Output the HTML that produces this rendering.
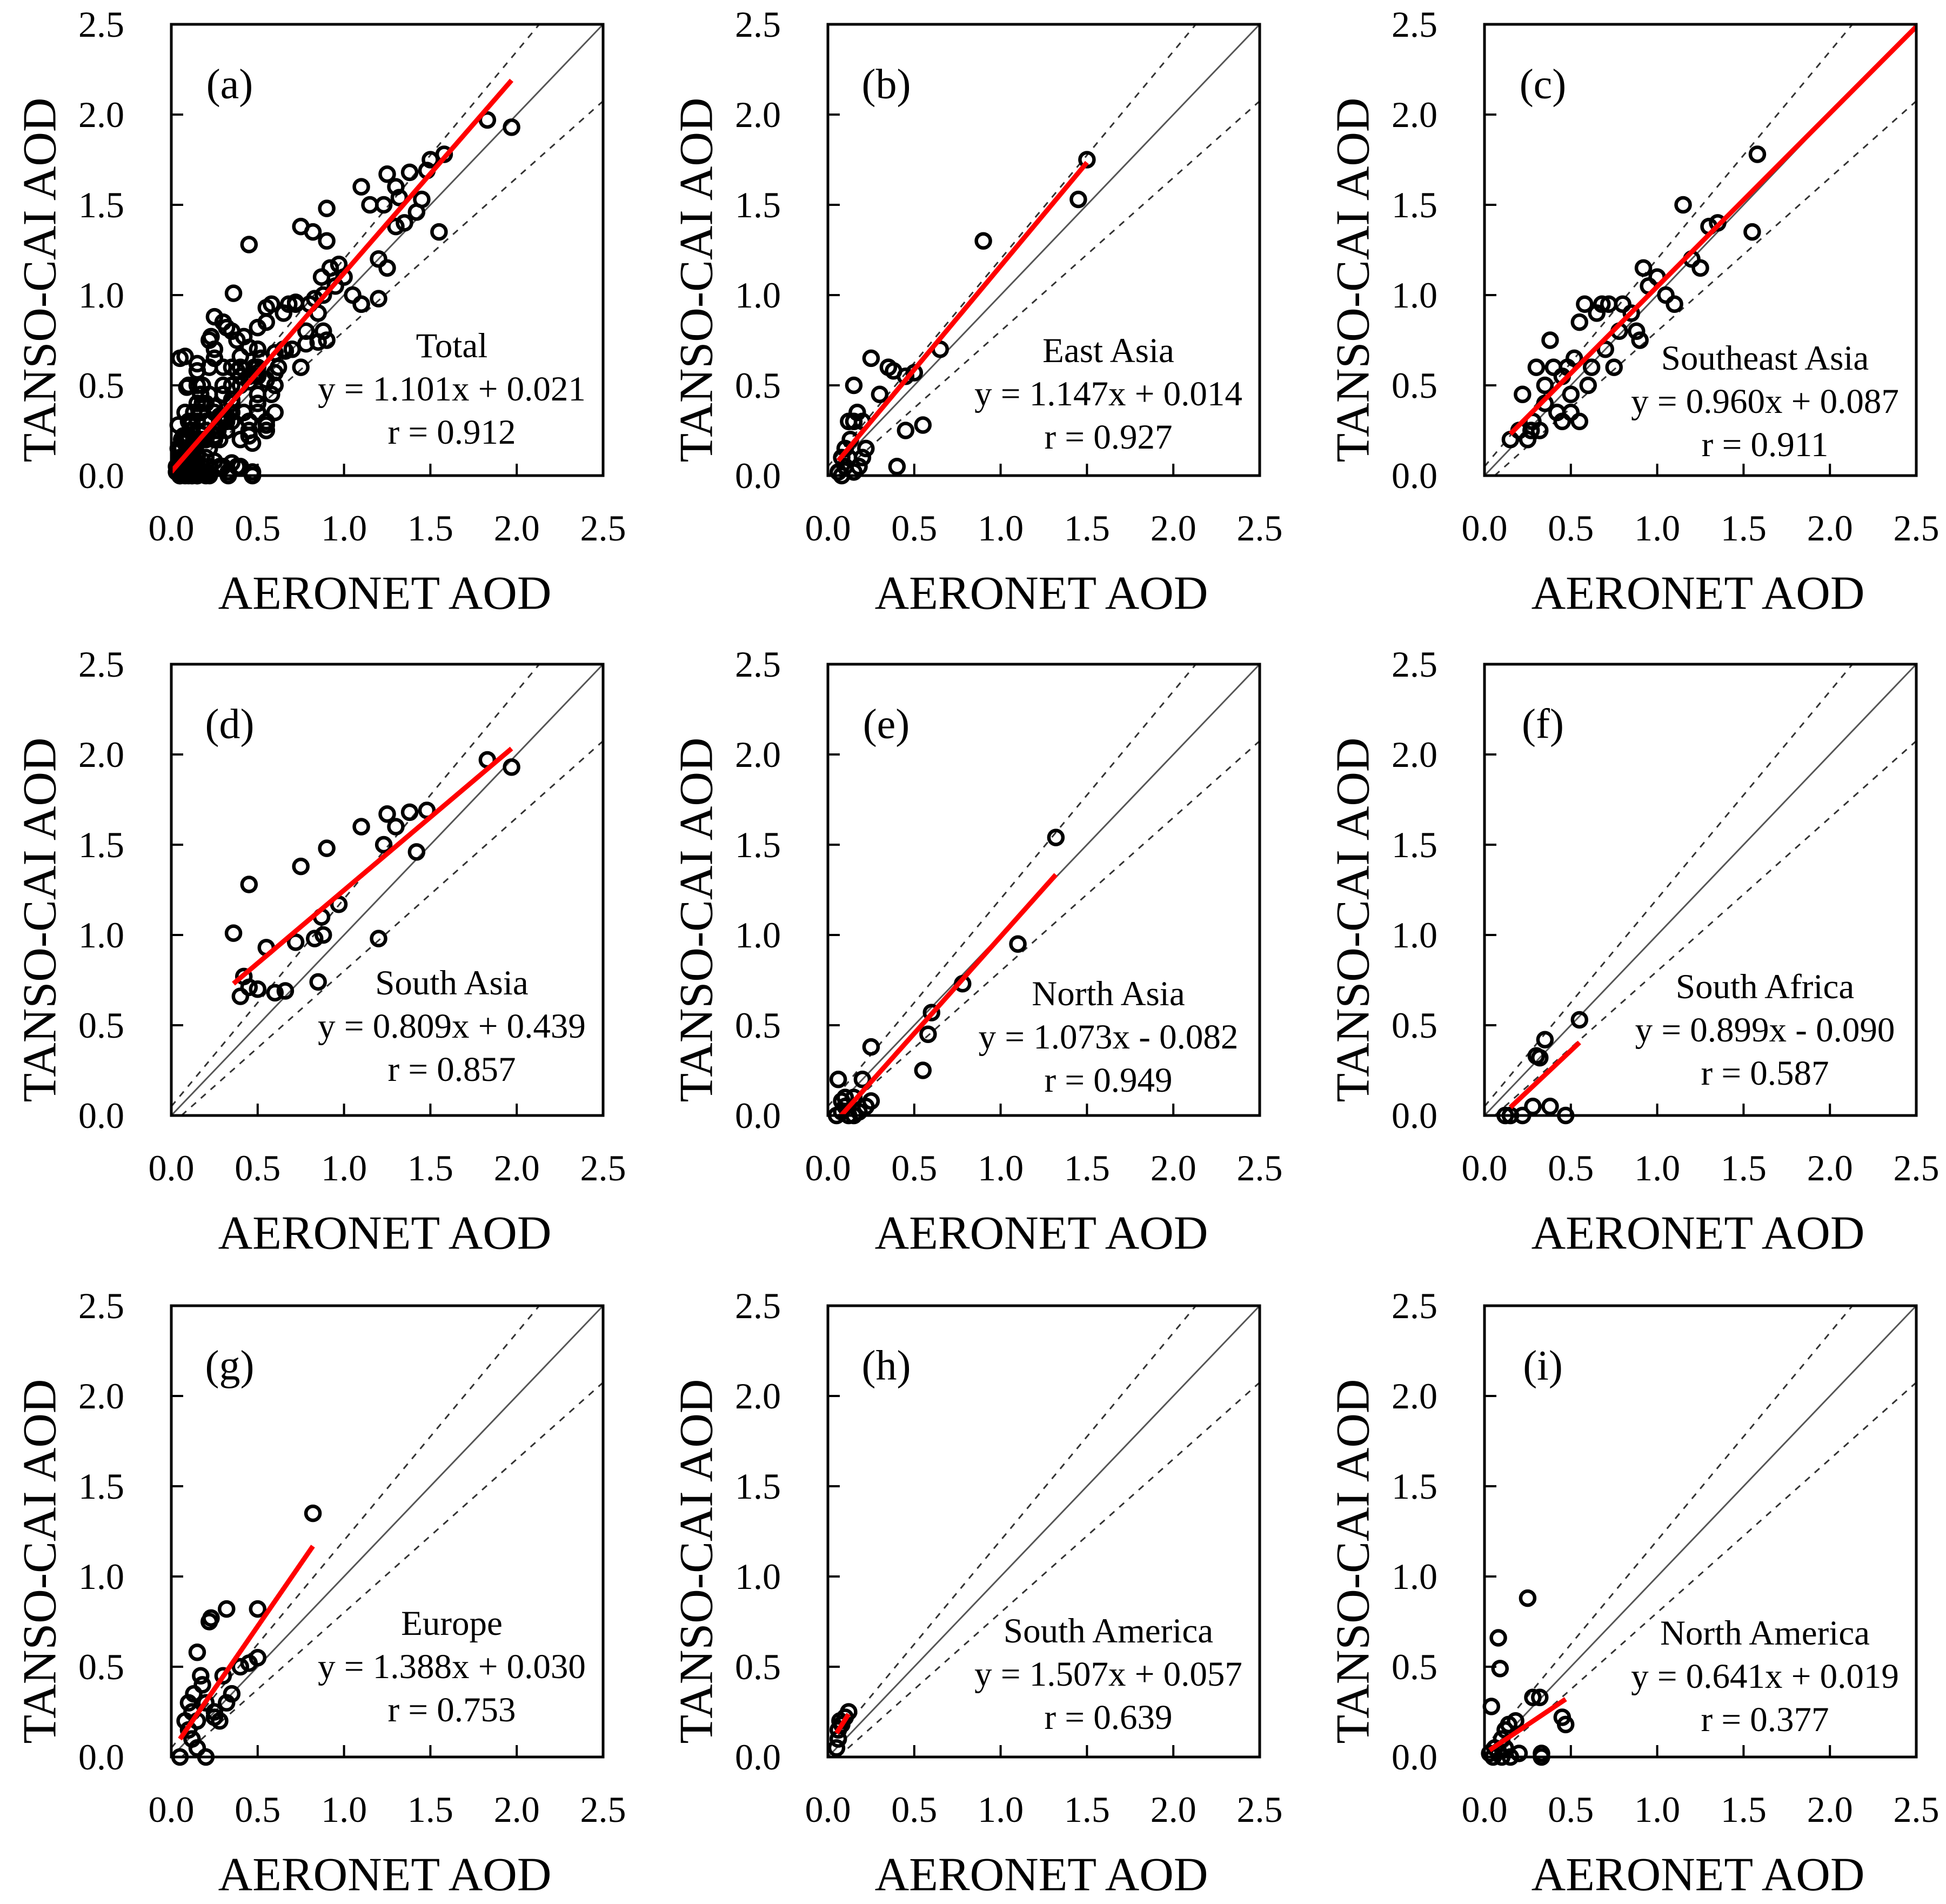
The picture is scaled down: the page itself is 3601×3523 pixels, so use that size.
<!DOCTYPE html>
<html><head><meta charset="utf-8"><style>
html,body{margin:0;padding:0;background:#fff}
svg{display:block}
svg text{font-family:"Liberation Serif","Times New Roman",serif;fill:#000}
</style></head><body>
<svg id="fig" width="3601" height="3523" viewBox="0 0 3601 3523" font-family="Liberation Serif, serif" xmlns="http://www.w3.org/2000/svg"></svg>
<script>
// ---- data ----
const eastAsiaX=[0.08,0.1,0.12,0.15,0.1,0.13,0.15,0.17,0.2,0.12,0.15,0.25,0.3,0.35,0.38,0.45,0.5,0.4,0.45,0.55,0.65,0.9,1.45,1.5,0.2,0.18,0.08,0.06,0.22];
const eastAsiaY=[0.0,0.05,0.1,0.02,0.15,0.2,0.3,0.35,0.3,0.3,0.5,0.65,0.45,0.6,0.58,0.55,0.57,0.05,0.25,0.28,0.7,1.3,1.53,1.75,0.1,0.05,0.1,0.02,0.15];
const seAsiaX=[0.15,0.2,0.22,0.25,0.28,0.3,0.32,0.35,0.38,0.4,0.42,0.45,0.48,0.5,0.52,0.55,0.55,0.58,0.6,0.62,0.65,0.68,0.7,0.72,0.75,0.78,0.8,0.85,0.88,0.9,0.92,0.95,1.0,1.05,1.1,1.15,1.2,1.25,1.3,1.35,1.55,1.58,0.27,0.35,0.5,0.45];
const seAsiaY=[0.2,0.25,0.45,0.2,0.3,0.6,0.25,0.5,0.75,0.6,0.35,0.55,0.6,0.45,0.65,0.3,0.85,0.95,0.5,0.6,0.9,0.95,0.7,0.95,0.6,0.8,0.95,0.9,0.8,0.75,1.15,1.05,1.1,1.0,0.95,1.5,1.2,1.15,1.38,1.4,1.35,1.78,0.25,0.4,0.35,0.3];
const sAsiaX=[0.36,0.45,0.4,0.42,0.45,0.5,0.55,0.6,0.66,0.75,0.72,0.85,0.83,0.88,0.87,0.9,0.97,1.1,1.2,1.23,1.25,1.3,1.38,1.42,1.48,1.83,1.97];
const sAsiaY=[1.01,1.28,0.66,0.77,0.71,0.7,0.93,0.68,0.69,1.38,0.96,0.74,0.98,1.0,1.1,1.48,1.17,1.6,0.98,1.5,1.67,1.6,1.68,1.46,1.69,1.97,1.93];
const nAsiaX=[0.05,0.08,0.1,0.06,0.1,0.15,0.2,0.25,0.22,0.25,0.12,0.18,0.55,0.58,0.6,0.78,1.1,1.32,0.08,0.15];
const nAsiaY=[0.0,0.02,0.05,0.2,0.1,0.0,0.2,0.38,0.05,0.08,0.0,0.02,0.25,0.45,0.57,0.73,0.95,1.54,0.08,0.1];
const sAfricaX=[0.12,0.15,0.22,0.28,0.3,0.32,0.35,0.38,0.47,0.55];
const sAfricaY=[0.0,0.0,0.0,0.05,0.33,0.32,0.42,0.05,0.0,0.53];
const europeX=[0.05,0.08,0.1,0.12,0.13,0.15,0.17,0.18,0.2,0.15,0.22,0.23,0.25,0.28,0.3,0.32,0.32,0.35,0.4,0.45,0.5,0.5,0.82,0.1,0.2,0.25,0.15,0.12];
const europeY=[0.0,0.2,0.3,0.25,0.35,0.58,0.45,0.4,0.0,0.05,0.75,0.77,0.25,0.2,0.45,0.82,0.3,0.35,0.5,0.52,0.55,0.82,1.35,0.15,0.3,0.22,0.2,0.1];
const sAmericaX=[0.05,0.06,0.07,0.08,0.1,0.12,0.06];
const sAmericaY=[0.05,0.15,0.2,0.18,0.22,0.25,0.1];
const nAmericaX=[0.03,0.05,0.06,0.08,0.1,0.12,0.15,0.2,0.04,0.08,0.09,0.14,0.18,0.25,0.28,0.32,0.33,0.33,0.45,0.47,0.1,0.12];
const nAmericaY=[0.02,0.0,0.05,0.03,0.0,0.05,0.0,0.02,0.28,0.66,0.49,0.18,0.2,0.88,0.33,0.33,0.02,0.0,0.22,0.18,0.1,0.15];
const extraX=[0.05,0.1,0.15,0.3,0.35,0.25,0.3,0.35,0.47,0.4,0.45,0.5,0.55,0.6,0.2,0.3,0.4,0.5,0.1,0.15,0.2,0.25,0.35,0.05,0.1,0.08,0.18,0.22,0.03,0.06,0.09,0.12,0.04,0.07,0.11,0.14];
const extraY=[0.65,0.5,0.62,0.85,0.8,0.7,0.05,0.07,0.02,0.2,0.3,0.4,0.25,0.35,0.4,0.5,0.55,0.6,0.3,0.4,0.2,0.35,0.3,0.1,0.2,0.35,0.5,0.6,0.05,0.08,0.12,0.02,0.15,0.22,0.25,0.08];
const totalX=[].concat(eastAsiaX,seAsiaX,sAsiaX,nAsiaX,sAfricaX,europeX,sAmericaX,nAmericaX,extraX);
const totalY=[].concat(eastAsiaY,seAsiaY,sAsiaY,nAsiaY,sAfricaY,europeY,sAmericaY,nAmericaY,extraY);
const panelLetters=["(a)","(b)","(c)","(d)","(e)","(f)","(g)","(h)","(i)"];
const regionNames=["Total","East Asia","Southeast Asia","South Asia","North Asia","South Africa","Europe","South America","North America"];
const slopes=[1.101,1.147,0.960,0.809,1.073,0.899,1.388,1.507,0.641];
const intercepts=[0.021,0.014,0.087,0.439,-0.082,-0.090,0.030,0.057,0.019];
const rValues=["0.912","0.927","0.911","0.857","0.949","0.587","0.753","0.639","0.377"];
const fitStart=[0.0,0.06,0.15,0.36,0.05,0.15,0.05,0.05,0.03];
const fitEnd=[1.97,1.5,2.5,1.97,1.32,0.55,0.82,0.12,0.47];
const seriesX=[totalX,eastAsiaX,seAsiaX,sAsiaX,nAsiaX,sAfricaX,europeX,sAmericaX,nAmericaX];
const seriesY=[totalY,eastAsiaY,seAsiaY,sAsiaY,nAsiaY,sAfricaY,europeY,sAmericaY,nAmericaY];
const tickVals=[0,0.5,1,1.5,2,2.5];
const tickLabels=["0.0","0.5","1.0","1.5","2.0","2.5"];

// ---- layout ----
const NS="http://www.w3.org/2000/svg";
const svg=document.getElementById('fig');
const FONT='Liberation Serif, Times New Roman, serif';
const colL=[317,1532,2747], rowT=[45,1229,2416];
const W=799, H=835, annY=[595,604,618,590,610,597,588,602,606];
function mk(tag,attrs,parent){const e=document.createElementNS(NS,tag);for(const k in attrs)e.setAttribute(k,attrs[k]);if(tag==='text')e.setAttribute('font-family',FONT);(parent||svg).appendChild(e);return e;}
function fmt(v){return (v<0?"- ":"+ ")+Math.abs(v).toFixed(3);}

for(let p=0;p<9;p++){
  const L=colL[p%3], T=rowT[Math.floor(p/3)];
  const sx=v=>L+v/2.5*W, sy=v=>T+H-v/2.5*H;
  const g=mk('g',{});
  
  
  const clipId='clip'+p;
  const cp=mk('clipPath',{id:clipId},g); mk('rect',{x:L,y:T,width:W,height:H},cp);
  const oneone=mk('line',{x1:sx(0),y1:sy(0),x2:sx(2.5),y2:sy(2.5),stroke:'#555','stroke-width':3},g);
  
  
  const up=mk('line',{x1:sx(0),y1:sy(0.05),x2:sx((2.5-0.05)/1.15),y2:sy(2.5),stroke:'#333','stroke-width':3,'stroke-dasharray':'12 12'},g);
  
  
  const lo=mk('line',{x1:sx(0.05/0.85),y1:sy(0),x2:sx(2.5),y2:sy(0.85*2.5-0.05),stroke:'#333','stroke-width':3,'stroke-dasharray':'12 12'},g);
  
  
  const xs=seriesX[p], ys=seriesY[p];
  for(let i=0;i<xs.length;i++){
    const c=mk('circle',{cx:sx(xs[i]),cy:sy(ys[i]),r:13,fill:'none',stroke:'#000','stroke-width':6.5},g);
    
    
  }
  const fl=mk('line',{x1:sx(fitStart[p]),y1:sy(slopes[p]*fitStart[p]+intercepts[p]),x2:sx(fitEnd[p]),y2:sy(slopes[p]*fitEnd[p]+intercepts[p]),stroke:'#f00','stroke-width':9,'clip-path':'url(#'+clipId+')'},g);
  
  
  const fr=mk('rect',{x:L,y:T,width:W,height:H,fill:'none',stroke:'#000','stroke-width':5},g);
  
  
  for(let k=0;k<tickVals.length;k++){
    const v=tickVals[k];
    if(v>0&&v<2.5){
      mk('line',{x1:sx(v),y1:T+H,x2:sx(v),y2:T+H-22,stroke:'#000','stroke-width':4},g);
      mk('line',{x1:L,y1:sy(v),x2:L+22,y2:sy(v),stroke:'#000','stroke-width':4},g);
    }
    const xt=mk('text',{x:sx(v),y:T+H+97,'font-size':68,'text-anchor':'middle','dominant-baseline':'central'},g);
    xt.textContent=tickLabels[k];
    
    
    const yt=mk('text',{x:L-87,y:sy(v),'font-size':68,'text-anchor':'end','dominant-baseline':'central'},g);
    yt.textContent=tickLabels[k];
    
    
  }
  const xtitle=mk('text',{x:L+395,y:T+H+218,'font-size':88,'text-anchor':'middle','dominant-baseline':'central'},g);
  xtitle.textContent='AERONET AOD';
  
  
  const ycx=L-243, ycy=T+473;
  const ytitle=mk('text',{x:ycx,y:ycy,'font-size':88,'text-anchor':'middle','dominant-baseline':'central',transform:'rotate(-90 '+ycx+' '+ycy+')'},g);
  ytitle.textContent='TANSO-CAI AOD';
  
  
  const pl=mk('text',{x:L+108,y:T+110,'font-size':78,'text-anchor':'middle','dominant-baseline':'central'},g);
  pl.textContent=panelLetters[p];
  
  
  const lines=[regionNames[p],'y = '+slopes[p].toFixed(3)+'x '+fmt(intercepts[p]),'r = '+rValues[p]];
  const ann=['region-name','regression-equation','correlation-coefficient'];
  for(let j=0;j<3;j++){
    const t=mk('text',{x:L+519,y:T+annY[p]+j*80,'font-size':65,'text-anchor':'middle','dominant-baseline':'central'},g);
    t.textContent=lines[j];
    
    
  }
}
</script>
</body></html>
